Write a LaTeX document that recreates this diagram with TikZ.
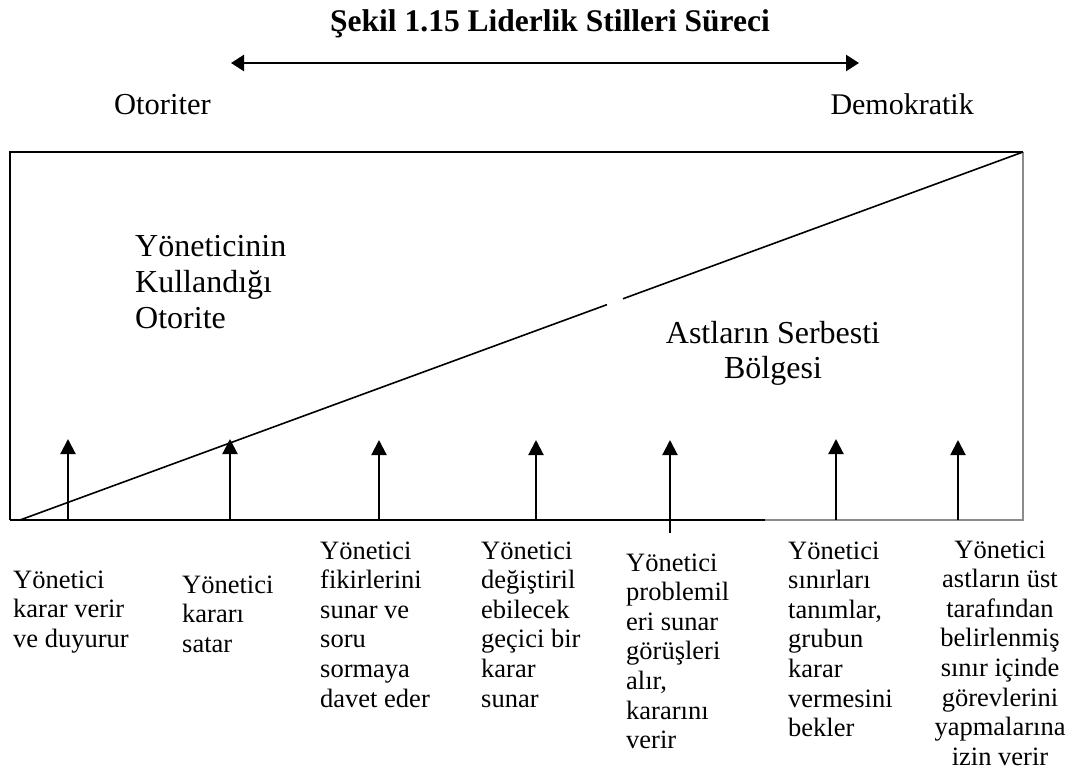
\documentclass[tikz,border=0pt]{standalone}
\usepackage{fontspec}
\setmainfont{Liberation Serif}
\usetikzlibrary{arrows.meta,calc}
\begin{document}
\begin{tikzpicture}[x=1pt,y=-1pt,
  frame/.style={line width=1.8pt, black},
  baseedge/.style={line width=1.4pt, black},
  paleedge/.style={line width=1.1pt, black!45},
  diag/.style={line width=1.6pt},
  uparrow/.style={line width=2pt, -{Triangle[width=15pt,length=15pt]}},
  spanarrow/.style={line width=2.6pt, {Triangle[width=16pt,length=13pt]}-{Triangle[width=16pt,length=13pt]}},
  title/.style={font=\fontsize{31.5}{36}\selectfont\bfseries, inner sep=0pt, anchor=base},
  pole/.style={inner sep=0pt},
  zone/.style={font=\fontsize{32}{36}\selectfont, inner sep=0pt},
  act/.style={font=\fontsize{26.5}{30}\selectfont, inner sep=0pt},
]
\useasboundingbox (0,0) rectangle (1080,780);

% title and the autocratic--democratic scale
\node[title] (title) at (550,31) {Şekil 1.15 Liderlik Stilleri Süreci};
\coordinate (scaleL) at (231,63);
\coordinate (scaleR) at (859,63);
\draw[spanarrow] (scaleL) -- (scaleR);
\node[pole, font=\fontsize{30.5}{34}\selectfont, anchor=base west] (otoriter) at (114,114) {Otoriter};
\node[pole, font=\fontsize{30}{34}\selectfont, anchor=base east] (demokratik) at (974,114) {Demokratik};

% frame
\coordinate (bl) at (10,520);
\coordinate (tl) at (10,152);
\coordinate (tr) at (1023,152);
\coordinate (br) at (1023,520);
\coordinate (bmid) at (765,520);
\draw[frame] (bl) -- (tl) -- (tr);
\draw[baseedge] (bl) -- (bmid);
\draw[paleedge] (bmid) -- (br) -- (tr);

% dividing diagonal (with its small break)
\coordinate (d0) at (20,520);
\draw[diag] (d0) -- ($(d0)!0.5852!(tr)$);
\draw[diag] ($(d0)!0.6012!(tr)$) -- (tr);

% zone labels
\node[zone, anchor=base west] (yon1) at (135,256) {Yöneticinin};
\node[zone, anchor=base west] (yon2) at (135,292) {Kullandığı};
\node[zone, anchor=base west] (yon3) at (135,328) {Otorite};
\node[zone, anchor=base] (ast1) at (773,343) {Astların Serbesti};
\node[zone, anchor=base] (ast2) at (773,378) {Bölgesi};

% arrows along the continuum
\foreach \n/\x/\b/\t in {1/68/520/439, 2/230/520/439, 3/379/520/440, 4/536/520/440,
                         5/670/533/440, 6/836/520/439, 7/958/520/440} {
  \coordinate (foot\n) at (\x,\b);
  \coordinate (tip\n) at (\x,\t);
  \draw[uparrow] (foot\n) -- (tip\n);
}

% behaviour descriptions
\newcommand\actcol[5]{%
  \foreach \line [count=\i from 0] in {#5} {
    \node[act, anchor=#4] (#1-\i) at ({#2},{#3+\i*29.6}) {\line};
  }%
}
\actcol{c1}{13}{588}{base west}{Yönetici, karar verir, ve duyurur}
\actcol{c2}{182}{593}{base west}{Yönetici, kararı, satar}
\actcol{c3}{320}{559}{base west}{Yönetici, fikirlerini, sunar ve, soru, sormaya, davet eder}
\actcol{c4}{481}{559}{base west}{Yönetici, değiştiril, ebilecek, geçici bir, karar, sunar}
\actcol{c5}{626}{571}{base west}{Yönetici, problemil, eri sunar, görüşleri, {alır,}, kararını, verir}
\actcol{c6}{788}{559}{base west}{Yönetici, sınırları, {tanımlar,}, grubun, karar, vermesini, bekler}
\actcol{c7}{1000}{558}{base}{Yönetici, astların üst, tarafından, belirlenmiş, sınır içinde, görevlerini, yapmalarına, izin verir}
\end{tikzpicture}
\end{document}
